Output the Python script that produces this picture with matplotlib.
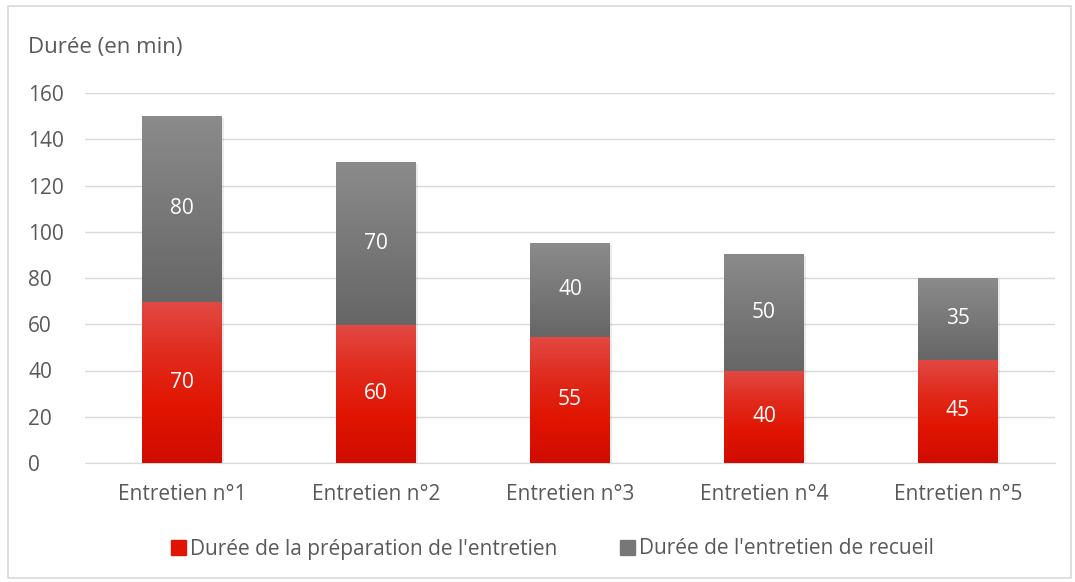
import numpy as np
import matplotlib.pyplot as plt
from matplotlib.patches import Rectangle
from matplotlib.colors import LinearSegmentedColormap

plt.rcParams['font.family'] = ['Open Sans', 'DejaVu Sans']

categories = ['Entretien n°1', 'Entretien n°2', 'Entretien n°3', 'Entretien n°4', 'Entretien n°5']
preparation = [70, 60, 55, 40, 45]
recueil = [80, 70, 40, 50, 35]
labels = ["Durée de la préparation de l'entretien", "Durée de l'entretien de recueil"]

red_cmap = LinearSegmentedColormap.from_list('r', ['#d00c00', '#e01400', '#e02a1c', '#e24a44'])
gray_cmap = LinearSegmentedColormap.from_list('g', ['#666666', '#8b8b8b'])

fig = plt.figure(figsize=(10.75, 5.82), dpi=100)
# chart border
fig.patches.append(Rectangle((8 / 1075, 4 / 582), 1063 / 1075, 572 / 582, transform=fig.transFigure,
                             fill=False, edgecolor='#d9d9d9', linewidth=1.2))
ax = fig.add_axes([85 / 1075, 1 - 463 / 582, (1055 - 85) / 1075, (463 - 93) / 582])

x = np.arange(len(categories))
w = 0.41
grad = np.linspace(0, 1, 256).reshape(-1, 1)


def grad_bars(bottoms, heights, cmap, z, overlap=0.0):
    bars = ax.bar(x, heights, w, bottom=bottoms, color='none', zorder=z)
    for b in bars:
        x0, y0 = b.get_x(), b.get_y()
        ax.imshow(grad, extent=[x0, x0 + b.get_width(), y0 - overlap, y0 + b.get_height()],
                  origin='lower', cmap=cmap, aspect='auto', zorder=z, interpolation='bilinear')
        # soft shadow
        ax.add_patch(Rectangle((x0 + 0.012, y0 - 0.6), b.get_width(), b.get_height(),
                               facecolor='#000000', alpha=0.08, zorder=2, linewidth=0))
    return bars


grad_bars([0] * 5, preparation, red_cmap, 3)
grad_bars(preparation, recueil, gray_cmap, 3.5, overlap=0.4)

for i in range(len(categories)):
    ax.text(x[i], preparation[i] / 2, str(preparation[i]), ha='center', va='center',
            color='white', fontsize=15, zorder=5)
    ax.text(x[i], preparation[i] + recueil[i] / 2, str(recueil[i]), ha='center', va='center',
            color='white', fontsize=15, zorder=5)

ax.set_xlim(-0.5, len(categories) - 0.5)
ax.set_ylim(0, 160)
ax.set_yticks(range(0, 161, 20))
ax.set_xticks(x)
ax.set_xticklabels(categories)
ax.grid(axis='y', color='#d9d9d9', linewidth=1, zorder=0)
ax.set_axisbelow(True)
for s in ['top', 'right', 'left']:
    ax.spines[s].set_visible(False)
ax.spines['bottom'].set_color('#d9d9d9')
ax.tick_params(axis='both', length=0, labelsize=15, colors='#595959')
ax.tick_params(axis='y', pad=41)
ax.tick_params(axis='x', pad=15)
for t in ax.get_yticklabels():
    t.set_horizontalalignment('left')

fig.text(28 / 1075, 1 - 47 / 582, 'Durée (en min)', fontsize=16, color='#595959', va='center')

handles = [Rectangle((0, 0), 1, 1, color='#e01400'), Rectangle((0, 0), 1, 1, color='#777777')]
fig.legend(handles, labels, loc='center', bbox_to_anchor=(0.514, 1 - 549 / 582), ncol=2, frameon=False,
           fontsize=15, handlelength=0.7, handleheight=0.7, handletextpad=0.2, columnspacing=3.0,
           labelcolor='#595959')

fig.savefig('out.png', dpi=100)
